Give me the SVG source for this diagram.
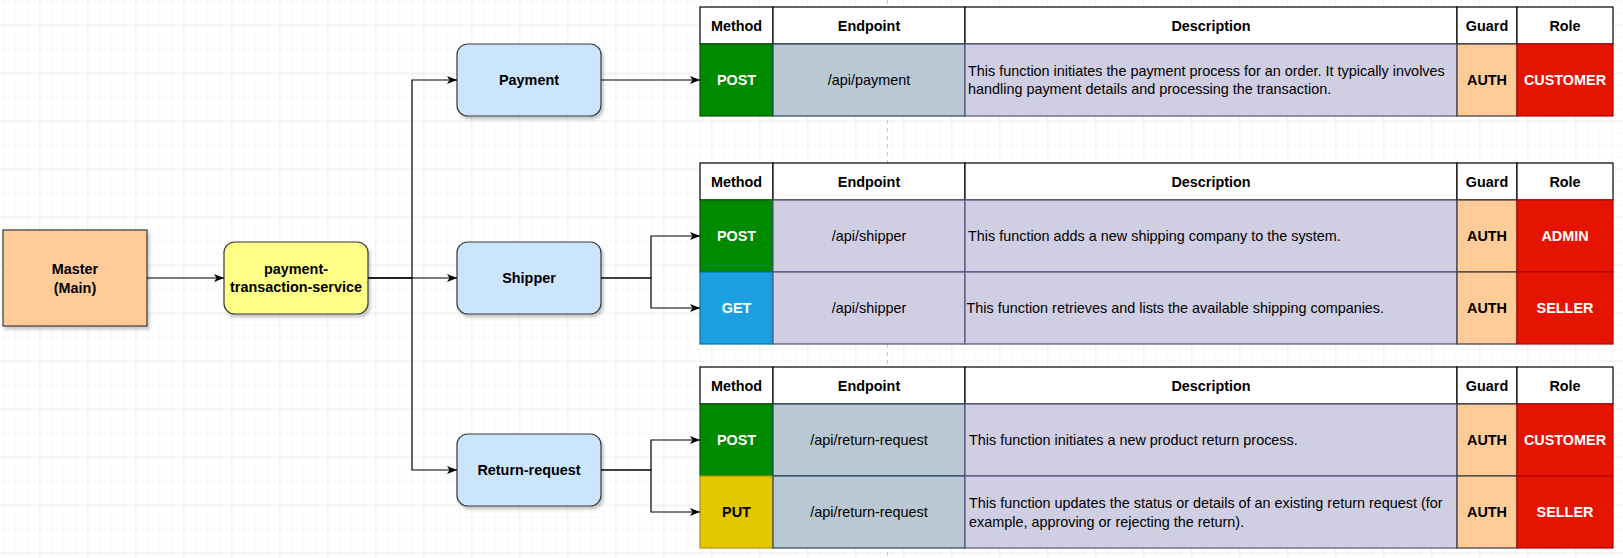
<svg xmlns="http://www.w3.org/2000/svg" width="1623" height="558" viewBox="0 0 1623 558">
<defs>
<pattern id="gmin" width="12" height="12" x="3.3" y="0.7" patternUnits="userSpaceOnUse"><path d="M0,0 H12 M0,0 V12" fill="none" stroke="#f1f1f1" stroke-width="1"/></pattern>
<pattern id="gmaj" width="48" height="48" x="39.3" y="24.7" patternUnits="userSpaceOnUse"><path d="M0,0 H48 M0,0 V48" fill="none" stroke="#e4e4e4" stroke-width="1"/></pattern>
<filter id="sh" x="-10%" y="-10%" width="130%" height="140%"><feDropShadow dx="2" dy="3" stdDeviation="1.5" flood-color="#000" flood-opacity="0.22"/></filter>
<marker id="arr" viewBox="0 0 10 8" refX="10" refY="4" markerWidth="10" markerHeight="8" markerUnits="userSpaceOnUse" orient="auto"><path d="M0,0 L10,4 L0,8 L2.5,4 Z" fill="#000"/></marker>
</defs>
<style>
text{font-family:"Liberation Sans",Arial,sans-serif;font-size:14.4px;}
.b{font-weight:bold;}
.c{text-anchor:middle;}
.w{fill:#fff;}
.k{fill:#000;}
.node{stroke:#36393d;stroke-width:1.2;filter:url(#sh);}
.blue{fill:#cce5ff;}
.hd{fill:#fff;stroke:#000;stroke-width:1.2;}
.post{fill:#008a00;stroke:#005700;stroke-width:1.2;}
.get{fill:#1ba1e2;stroke:#006eaf;stroke-width:1.2;}
.put{fill:#e3c800;stroke:#b09500;stroke-width:1.2;}
.ep{fill:#bac8d3;stroke:#23445d;stroke-width:1.2;}
.ep2{fill:#d0cee2;stroke:#56517e;stroke-width:1.2;}
.ds{fill:#d0cee2;stroke:#56517e;stroke-width:1.2;}
.gd{fill:#ffcc99;stroke:#36393d;stroke-width:1.2;}
.rl{fill:#e51400;stroke:#b20000;stroke-width:1.2;}
.edge{fill:none;stroke:#000;stroke-width:1.2;marker-end:url(#arr);}
</style>
<rect width="1623" height="558" fill="#fff"/>
<rect width="1623" height="558" fill="url(#gmin)"/>
<rect width="1623" height="558" fill="url(#gmaj)"/>
<line x1="887.5" y1="0" x2="887.5" y2="558" stroke="#c8c8c8" stroke-width="1" stroke-dasharray="4,4"/>

<g id="master">
<rect class="node" x="3" y="230" width="144" height="96" fill="#ffcc99"/>
<text class="b c" x="75" y="274">Master</text>
<text class="b c" x="75" y="293">(Main)</text>
</g>
<g id="pts">
<rect class="node" x="224" y="242" width="144" height="72" rx="10.8" fill="#ffff88"/>
<text class="b c" x="296" y="274">payment-</text>
<text class="b c" x="296" y="292">transaction-service</text>
</g>
<g id="payment">
<rect class="node blue" x="457" y="44" width="144" height="72" rx="10.8"/>
<text class="b c" x="529" y="85">Payment</text>
</g>
<g id="shipper">
<rect class="node blue" x="457" y="242" width="144" height="72" rx="10.8"/>
<text class="b c" x="529" y="283">Shipper</text>
</g>
<g id="return-request">
<rect class="node blue" x="457" y="434" width="144" height="72" rx="10.8"/>
<text class="b c" x="529" y="475">Return-request</text>
</g>

<g id="table-payment">
<rect class="hd" x="700" y="7" width="73" height="37"/>
<rect class="hd" x="773" y="7" width="192" height="37"/>
<rect class="hd" x="965" y="7" width="492" height="37"/>
<rect class="hd" x="1457" y="7" width="60" height="37"/>
<rect class="hd" x="1517" y="7" width="96" height="37"/>
<text class="b c" x="736.5" y="30.5">Method</text>
<text class="b c" x="869" y="30.5">Endpoint</text>
<text class="b c" x="1211" y="30.5">Description</text>
<text class="b c" x="1487" y="30.5">Guard</text>
<text class="b c" x="1565" y="30.5">Role</text>
<rect class="post" x="700" y="44" width="73" height="72"/>
<rect class="ep" x="773" y="44" width="192" height="72"/>
<rect class="ds" x="965" y="44" width="492" height="72"/>
<rect class="gd" x="1457" y="44" width="60" height="72"/>
<rect class="rl" x="1517" y="44" width="96" height="72"/>
<text class="b c w" x="736.5" y="85">POST</text>
<text class="c" x="869" y="85">/api/payment</text>
<text x="968" y="76">This function initiates the payment process for an order. It typically involves</text>
<text x="968" y="94">handling payment details and processing the transaction.</text>
<text class="b c" x="1487" y="85">AUTH</text>
<text class="b c w" x="1565" y="85">CUSTOMER</text>
</g>

<g id="table-shipper">
<rect class="hd" x="700" y="163" width="73" height="37"/>
<rect class="hd" x="773" y="163" width="192" height="37"/>
<rect class="hd" x="965" y="163" width="492" height="37"/>
<rect class="hd" x="1457" y="163" width="60" height="37"/>
<rect class="hd" x="1517" y="163" width="96" height="37"/>
<text class="b c" x="736.5" y="186.5">Method</text>
<text class="b c" x="869" y="186.5">Endpoint</text>
<text class="b c" x="1211" y="186.5">Description</text>
<text class="b c" x="1487" y="186.5">Guard</text>
<text class="b c" x="1565" y="186.5">Role</text>
<rect class="post" x="700" y="200" width="73" height="72"/>
<rect class="ep2" x="773" y="200" width="192" height="72"/>
<rect class="ds" x="965" y="200" width="492" height="72"/>
<rect class="gd" x="1457" y="200" width="60" height="72"/>
<rect class="rl" x="1517" y="200" width="96" height="72"/>
<text class="b c w" x="736.5" y="241">POST</text>
<text class="c" x="869" y="241">/api/shipper</text>
<text x="968" y="241">This function adds a new shipping company to the system.</text>
<text class="b c" x="1487" y="241">AUTH</text>
<text class="b c w" x="1565" y="241">ADMIN</text>
<rect class="get" x="700" y="272" width="73" height="72"/>
<rect class="ep2" x="773" y="272" width="192" height="72"/>
<rect class="ds" x="965" y="272" width="492" height="72"/>
<rect class="gd" x="1457" y="272" width="60" height="72"/>
<rect class="rl" x="1517" y="272" width="96" height="72"/>
<text class="b c w" x="736.5" y="313">GET</text>
<text class="c" x="869" y="313">/api/shipper</text>
<text x="966.5" y="313">This function retrieves and lists the available shipping companies.</text>
<text class="b c" x="1487" y="313">AUTH</text>
<text class="b c w" x="1565" y="313">SELLER</text>
</g>

<g id="table-return-request">
<rect class="hd" x="700" y="367" width="73" height="37"/>
<rect class="hd" x="773" y="367" width="192" height="37"/>
<rect class="hd" x="965" y="367" width="492" height="37"/>
<rect class="hd" x="1457" y="367" width="60" height="37"/>
<rect class="hd" x="1517" y="367" width="96" height="37"/>
<text class="b c" x="736.5" y="390.5">Method</text>
<text class="b c" x="869" y="390.5">Endpoint</text>
<text class="b c" x="1211" y="390.5">Description</text>
<text class="b c" x="1487" y="390.5">Guard</text>
<text class="b c" x="1565" y="390.5">Role</text>
<rect class="post" x="700" y="404" width="73" height="72"/>
<rect class="ep" x="773" y="404" width="192" height="72"/>
<rect class="ds" x="965" y="404" width="492" height="72"/>
<rect class="gd" x="1457" y="404" width="60" height="72"/>
<rect class="rl" x="1517" y="404" width="96" height="72"/>
<text class="b c w" x="736.5" y="445">POST</text>
<text class="c" x="869" y="445">/api/return-request</text>
<text x="969" y="445">This function initiates a new product return process.</text>
<text class="b c" x="1487" y="445">AUTH</text>
<text class="b c w" x="1565" y="445">CUSTOMER</text>
<rect class="put" x="700" y="476" width="73" height="72"/>
<rect class="ep" x="773" y="476" width="192" height="72"/>
<rect class="ds" x="965" y="476" width="492" height="72"/>
<rect class="gd" x="1457" y="476" width="60" height="72"/>
<rect class="rl" x="1517" y="476" width="96" height="72"/>
<text class="b c k" x="736.5" y="517">PUT</text>
<text class="c" x="869" y="517">/api/return-request</text>
<text x="969" y="508">This function updates the status or details of an existing return request (for</text>
<text x="969" y="527">example, approving or rejecting the return).</text>
<text class="b c" x="1487" y="517">AUTH</text>
<text class="b c w" x="1565" y="517">SELLER</text>
</g>

<g id="connectors">
<path class="edge" d="M147,278 L224,278"/>
<path class="edge" d="M368,278 L412,278 L412,80 L457,80"/>
<path class="edge" d="M368,278 L457,278"/>
<path class="edge" d="M368,278 L412,278 L412,470 L457,470"/>
<path class="edge" d="M601,80 L700,80"/>
<path class="edge" d="M601,278 L651,278 L651,236 L700,236"/>
<path class="edge" d="M601,278 L651,278 L651,308 L700,308"/>
<path class="edge" d="M601,470 L651,470 L651,440 L700,440"/>
<path class="edge" d="M601,470 L651,470 L651,512 L700,512"/>
</g>
</svg>
